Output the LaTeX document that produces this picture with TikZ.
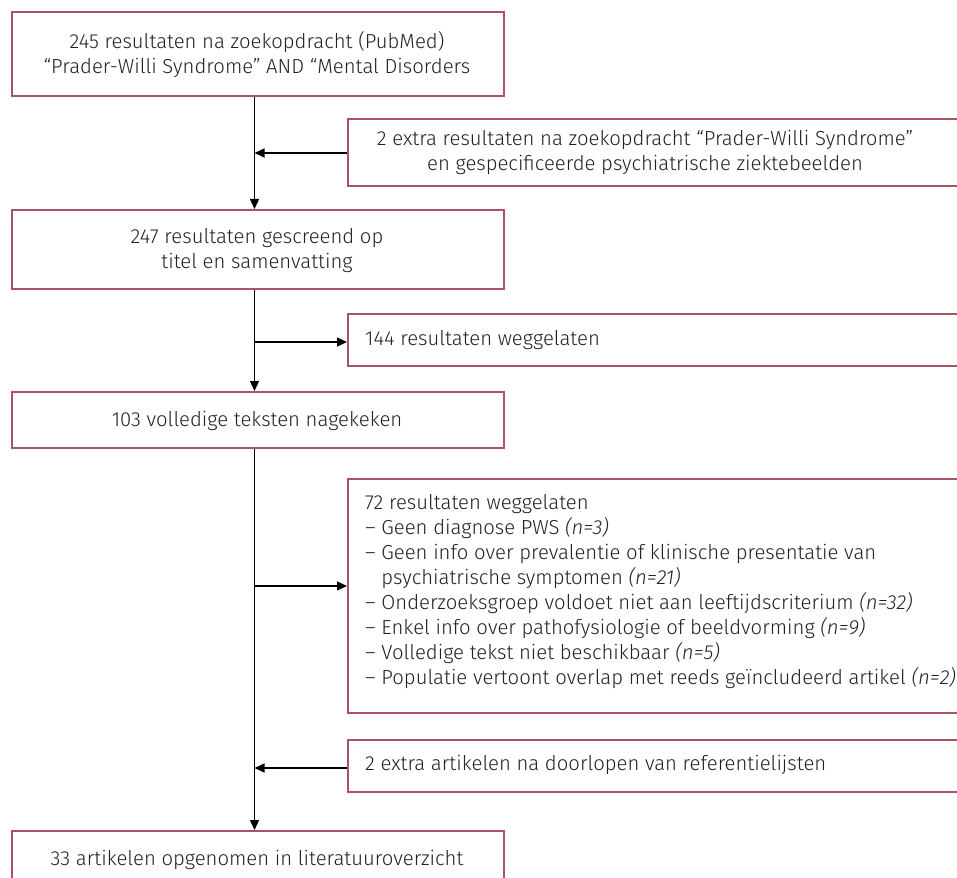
\documentclass[tikz,border=0pt]{standalone}
\usepackage{fontspec}
\setmainfont{Fira Sans}[UprightFont={* Light},ItalicFont={* Light Italic}]
\usetikzlibrary{arrows.meta}
\definecolor{boxred}{RGB}{170,82,102}
\definecolor{txt}{RGB}{34,34,34}
\begin{document}
\begin{tikzpicture}[x=1pt,y=-1pt,
  rbox/.style={draw=boxred,line width=2pt,fill=white,inner sep=0pt,anchor=north west},
  lbl/.style={text=txt,font=\fontsize{20.3}{25}\selectfont,inner sep=0pt},
  conn/.style={line width=1.3pt,black},
  arr/.style={conn,-{Triangle[length=10pt,width=9pt]}}]
\useasboundingbox (0,0) rectangle (957,877);
% left boxes
\node[rbox,minimum width=492,minimum height=84] (b1) at (11,11) {};
\node[lbl,align=center] (t1) at (257,55) {245 resultaten na zoekopdracht (PubMed)\\ “Prader-Willi Syndrome” AND “Mental Disorders};
\node[rbox,minimum width=492,minimum height=79] (b3) at (11,209) {};
\node[lbl,align=center] (t3) at (257,251) {247 resultaten gescreend op\\ titel en samenvatting};
\node[rbox,minimum width=492,minimum height=56] (b5) at (11,391) {};
\node[lbl] (t5) at (257,421) {103 volledige teksten nagekeken};
\node[rbox,minimum width=492,minimum height=70] (b8) at (11,830) {};
\node[lbl] (t8) at (257,860) {33 artikelen opgenomen in literatuuroverzicht};
% right boxes
\node[rbox,minimum width=630,minimum height=67] (b2) at (347,118) {};
\node[lbl,align=center] (t2) at (645,152) {2 extra resultaten na zoekopdracht “Prader-Willi Syndrome”\\ en gespecificeerde psychiatrische ziektebeelden};
\node[rbox,minimum width=630,minimum height=52] (b4) at (347,313) {};
\node[lbl,anchor=west] (t4) at (365,340) {144 resultaten weggelaten};
\node[rbox,minimum width=630,minimum height=234] (b6) at (347,478) {};
\node[lbl,anchor=north west,align=left] (t6) at (365,494) {72 resultaten weggelaten\\
– Geen diagnose PWS \textit{(n=3)}\\
– Geen info over prevalentie of klinische presentatie van\\
\phantom{– }psychiatrische symptomen \textit{(n=21)}\\
– Onderzoeksgroep voldoet niet aan leeftijdscriterium \textit{(n=32)}\\
– Enkel info over pathofysiologie of beeldvorming \textit{(n=9)}\\
– Volledige tekst niet beschikbaar \textit{(n=5)}\\
– Populatie vertoont overlap met reeds geïncludeerd artikel \textit{(n=2)}};
\node[rbox,minimum width=630,minimum height=52] (b7) at (347,739) {};
\node[lbl,anchor=west] (t7) at (365,765) {2 extra artikelen na doorlopen van referentielijsten};
% trunk coordinates
\coordinate (j1) at (254.5,153);
\coordinate (j2) at (254.5,342);
\coordinate (j3) at (254.5,586);
\coordinate (j4) at (254.5,768);
% connectors
\draw[arr] (b1.south -| j1) -- (b3.north -| j1);
\draw[arr] (b2.west |- j1) -- (j1);
\draw[arr] (b3.south -| j2) -- (b5.north -| j2);
\draw[arr] (j2) -- (b4.west |- j2);
\draw[arr] (b5.south -| j3) -- (b8.north -| j3);
\draw[arr] (j3) -- (b6.west |- j3);
\draw[arr] (b7.west |- j4) -- (j4);
\end{tikzpicture}
\end{document}
